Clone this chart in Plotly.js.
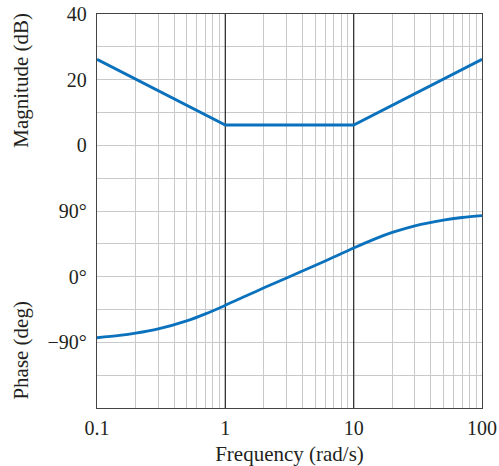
<!DOCTYPE html>
<html>
<head>
<meta charset="utf-8">
<script src="https://cdn.plot.ly/plotly-3.0.1.min.js"></script>
<style>html,body{margin:0;padding:0;background:#fff;}#chart{width:499px;height:466px;}</style>
</head>
<body>
<div id="chart"></div>
<script>
// Magnitude (asymptotic), dB
var magFreq = [0.1, 1, 10, 100];
var magDb = [26.2, 6.2, 6.2, 26.2];

// Phase, degrees
var phaseFreq = [0.1, 0.15, 0.2, 0.3, 0.5, 0.7, 1, 1.5, 2, 3, 5, 7, 10, 15, 20, 30, 50, 70, 100];
var phaseDeg = [-83.7, -80.6, -77.5, -71.6, -60.6, -51.0, -39.3, -25.2, -15.3, -1.7, 15.3, 26.9, 39.3, 52.5, 60.6, 69.7, 77.5, 81.1, 83.7];

// x grid / tick labels
var xGrid = [0.1,0.2,0.3,0.4,0.5,0.6,0.7,0.8,0.9,1,2,3,4,5,6,7,8,9,10,20,30,40,50,60,70,80,90,100];
var xLabels = {0.1:'0.1', 1:'1', 10:'10', 100:'100'};
// emphasised decade lines
var decadeLines = [1, 10];

// y grid (magnitude scale) and labels shared by both panels
var yGrid = [-80,-70,-60,-50,-40,-30,-20,-10,0,10,20,30,40];
var yLabels = {40:'40', 20:'20', 0:'0', '-20':'90°', '-40':'0°', '-60':'−90°'};
var yRange = [-80, 40];

var lineColor = '#0a71bd';
var fam = 'Liberation Serif, Times New Roman, serif';
var tickFont = {family: fam, size: 20, color: '#231f20'};
var titleFont = {family: fam, size: 21, color: '#231f20'};

var dx = [], dy = [];
decadeLines.forEach(function(v){ dx.push(v, v, null); dy.push(yRange[0], yRange[1], null); });

var traces = [
  {x: dx, y: dy, mode: 'lines', line: {color: '#333', width: 1.3}, xaxis: 'x', yaxis: 'y', hoverinfo: 'none', connectgaps: false},
  {x: magFreq, y: magDb, mode: 'lines', line: {color: lineColor, width: 2.8}, xaxis: 'x', yaxis: 'y', hoverinfo: 'none'},
  {x: phaseFreq, y: phaseDeg, mode: 'lines', line: {color: lineColor, width: 2.8, shape: 'spline'}, xaxis: 'x', yaxis: 'y2', hoverinfo: 'none'}
];

var layout = {
  width: 499, height: 466,
  margin: {l: 97, r: 17, t: 14, b: 58},
  paper_bgcolor: '#fff', plot_bgcolor: '#fff',
  showlegend: false,
  font: tickFont,
  xaxis: {
    type: 'log', range: [-1, 2],
    tickmode: 'array', tickvals: xGrid,
    ticktext: xGrid.map(function(v){ return xLabels[v] || ''; }),
    showgrid: true, gridcolor: '#c9c9cc', gridwidth: 1,
    ticks: '', showline: true, mirror: true, linecolor: '#444', linewidth: 1.2,
    zeroline: false, tickfont: tickFont, ticklabelstandoff: 2,
    title: {text: 'Frequency (rad/s)', font: titleFont, standoff: 14}
  },
  yaxis: {
    range: yRange,
    tickmode: 'array', tickvals: yGrid,
    ticktext: yGrid.map(function(v){ return yLabels[v] || ''; }),
    showgrid: true, gridcolor: '#c9c9cc', gridwidth: 1,
    ticks: '', showline: true, mirror: true, linecolor: '#444', linewidth: 1.2,
    zeroline: false, tickfont: tickFont, ticklabelstandoff: 5
  },
  yaxis2: {
    range: [-180, 360], overlaying: 'y', side: 'left',
    showgrid: false, showticklabels: false, ticks: '', zeroline: false, showline: false
  },
  annotations: [
    {text: 'Magnitude (dB)', xref: 'paper', yref: 'paper', x: -0.196, y: 0.832, textangle: -90, showarrow: false, font: titleFont, xanchor: 'center', yanchor: 'middle'},
    {text: 'Phase (deg)', xref: 'paper', yref: 'paper', x: -0.196, y: 0.147, textangle: -90, showarrow: false, font: titleFont, xanchor: 'center', yanchor: 'middle'}
  ]
};

Plotly.newPlot('chart', traces, layout, {displayModeBar: false, staticPlot: true});
</script>
</body>
</html>
